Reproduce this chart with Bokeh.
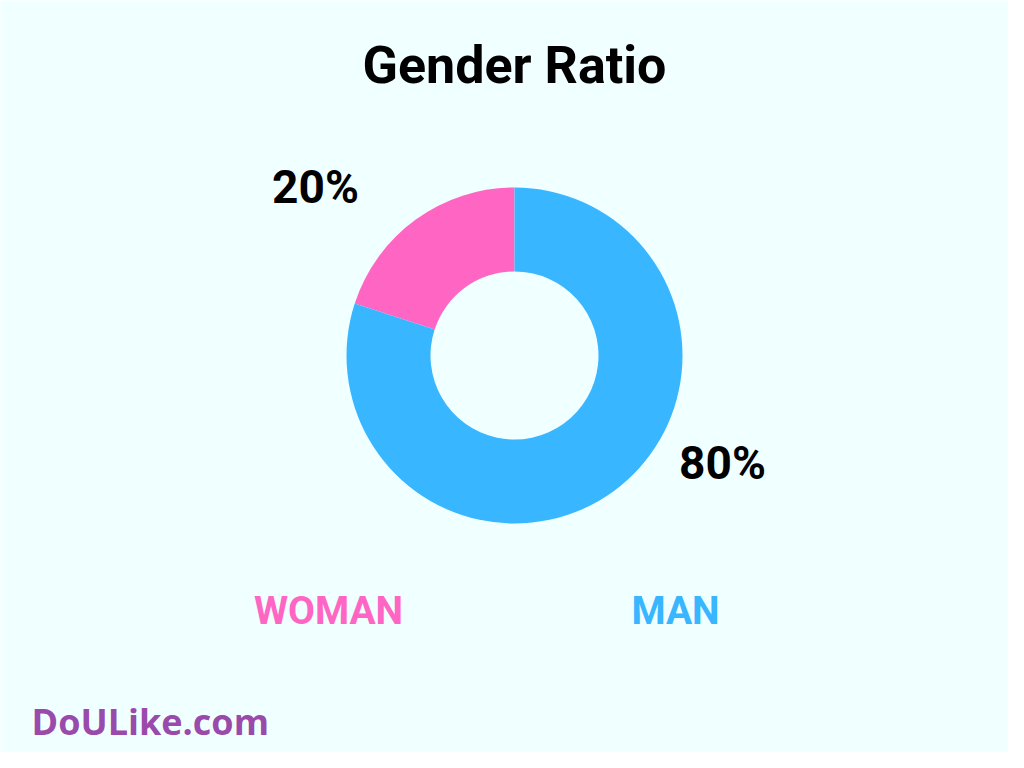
import math
from bokeh.plotting import figure
from bokeh.models import Range1d, ColumnDataSource
from bokeh.core.properties import value
from bokeh.embed import file_html
from bokeh.resources import INLINE

# ---- data ----
categories = ["WOMAN", "MAN"]
shares = [20, 80]
pct_labels = ["20%", "80%"]
colors = ["#ff66c4", "#38b6ff"]
title_text = "Gender Ratio"
brand_text = "DoULike.com"

BG = "#f0ffff"
W, H = 1008, 752
# screen-pixel coordinates; y in data = H - y_pix
def Y(ypix):
    return H - ypix

p = figure(width=W, height=H, output_backend="svg", toolbar_location=None,
           x_range=Range1d(0, W), y_range=Range1d(0, H),
           min_border=0, outline_line_color=None)
p.axis.visible = False
p.grid.visible = False
p.background_fill_color = BG
p.border_fill_color = BG

# donut
cx, cy = 514, Y(355)
r_out, r_in = 168, 84
total = sum(shares)
starts, ends = [], []
a = math.pi / 2
for s in shares:
    starts.append(a)
    a += 2 * math.pi * s / total
    ends.append(a)
src = ColumnDataSource(dict(start=starts, end=ends, color=colors, cat=categories))
p.annular_wedge(x=cx, y=cy, inner_radius=r_in, outer_radius=r_out,
                start_angle="start", end_angle="end", fill_color="color",
                line_color=None, source=src)

cond = value("Roboto")

# title
p.text(x=[514], y=[Y(65)], text=[title_text], text_font=cond, text_font_style="bold",
       text_font_size="52px", text_align="center", text_baseline="middle", text_color="#000000")

# percentage labels
p.text(x=[315, 722], y=[Y(186), Y(462)], text=pct_labels, text_font=cond,
       text_font_style="bold", text_font_size="46px", text_align="center",
       text_baseline="middle", text_color="#000000")

# category labels
p.text(x=[328, 675], y=[Y(610), Y(610)], text=categories, text_font=cond,
       text_font_style="bold", text_font_size="39px", text_align="center",
       text_baseline="middle", text_color=colors)

# brand
p.text(x=[31], y=[Y(721)], text=[brand_text], text_font=value("Open Sans"),
       text_font_style="bold", text_font_size="36px", text_align="left",
       text_baseline="middle", text_color="#9a4aaa")

open("out.html", "w").write(file_html(p, INLINE))
